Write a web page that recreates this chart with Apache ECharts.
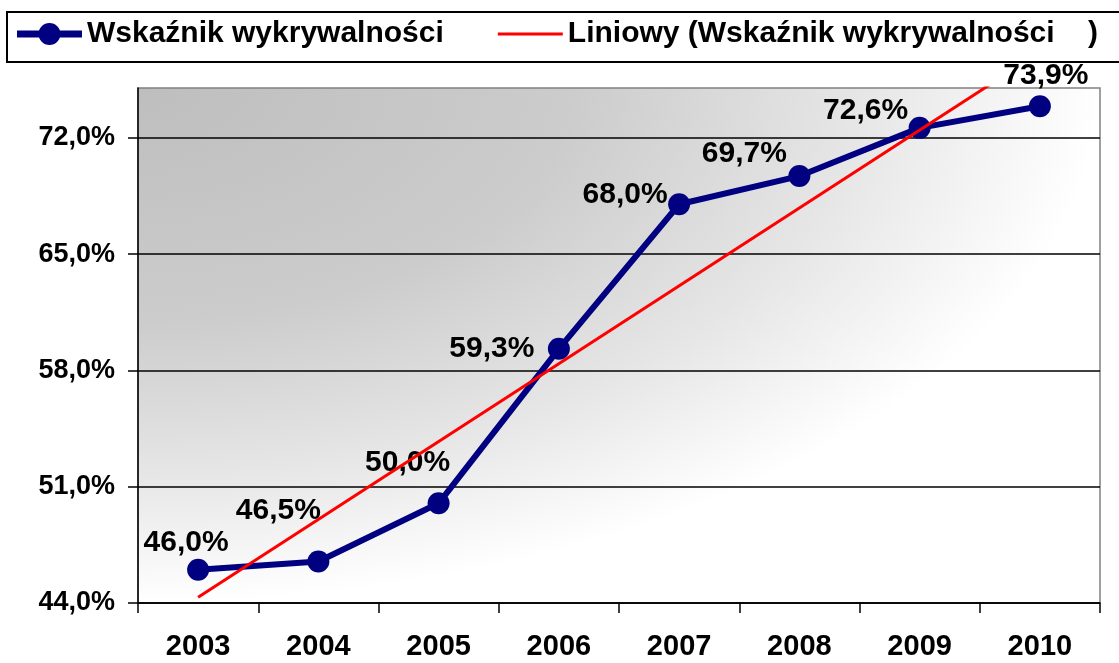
<!DOCTYPE html>
<html>
<head>
<meta charset="utf-8">
<script src="https://cdn.jsdelivr.net/npm/echarts@6/dist/echarts.min.js"></script>
<style>
html,body{margin:0;padding:0;background:#fff;}
#chart{width:1119px;height:663px;}
</style>
</head>
<body>
<div id="chart"></div>
<script>
// ---- data ----
var years = ['2003', '2004', '2005', '2006', '2007', '2008', '2009', '2010'];
var detectionRate = [46.0, 46.5, 50.0, 59.3, 68.0, 69.7, 72.6, 73.9];
// linear trend line values read at the first and last category
var trendYears = ['2003', '2010'];
var trendValues = [44.35, 77.15];
var yTicks = [44, 51, 58, 65, 72];
var seriesName = 'Wskaźnik wykrywalności';
var trendName = 'Liniowy (Wskaźnik wykrywalności    )';

// ---- layout (label offsets, px) ----
var labelOffsets = [[-12, -27], [-40, -51], [-31, -41], [-67, 0], [-54, -10], [-55, -22], [-54, -17], [6, -31]];

function pct(v) { return v.toFixed(1).replace('.', ',') + '%'; }

var FONT = "'Liberation Sans', Arial, sans-serif";
var chart = echarts.init(document.getElementById('chart'), null, {renderer: 'canvas'});

var G = {left: 138, top: 88, right: 19, bottom: 60};
var gw = 1119 - G.left - G.right, gh = 663 - G.top - G.bottom;

var iconMain = 'path://M0,8 L65,8 L65,15 L0,15 Z M21.5,11.5 A11,11 0 1,1 43.5,11.5 A11,11 0 1,1 21.5,11.5 Z M0,0 L0,0.01 M0,23 L0,23.01';
var iconTrend = 'path://M0,0 L65,0 L65,3 L0,3 Z';

var option = {
  animation: false,
  textStyle: {fontFamily: FONT},
  graphic: [
    {
      type: 'rect', z: -10, silent: true,
      x: G.left, y: G.top, scaleX: gw / gh, scaleY: 1,
      shape: {x: 0, y: 0, width: gh, height: gh},
      style: {
        fill: {
          type: 'radial', x: 0, y: 0, r: 1,
          colorStops: [
            {offset: 0, color: '#bebebe'},
            {offset: 0.45, color: '#cccccc'},
            {offset: 0.75, color: '#e6e6e6'},
            {offset: 0.92, color: '#f7f7f7'},
            {offset: 1, color: '#ffffff'}
          ]
        }
      }
    },
    {
      type: 'rect', z: -10, silent: true,
      shape: {x: 7, y: 12, width: 1140, height: 50},
      style: {fill: '#ffffff', stroke: '#000', lineWidth: 2}
    }
  ],
  legend: {
    left: 17, top: 19, padding: 0,
    itemWidth: 65, itemHeight: 23, itemGap: 54,
    textStyle: {fontSize: 30, fontWeight: 'bold', color: '#000', fontFamily: FONT},
    data: [
      {name: seriesName, icon: iconMain},
      {name: trendName, icon: iconTrend}
    ]
  },
  grid: {
    left: G.left, top: G.top, right: G.right, bottom: G.bottom,
    show: true, backgroundColor: 'transparent', borderColor: '#808080', borderWidth: 1.5
  },
  xAxis: {
    type: 'category', data: years, boundaryGap: true,
    axisLine: {lineStyle: {color: '#000', width: 1.5}},
    axisTick: {show: true, length: 10, lineStyle: {color: '#000', width: 1.5}},
    axisLabel: {fontSize: 29, fontWeight: 'bold', color: '#000', margin: 29, fontFamily: FONT},
    splitLine: {show: false}
  },
  yAxis: {
    type: 'value', min: 44, max: 75, interval: 7,
    axisLine: {show: true, lineStyle: {color: '#000', width: 1.5}},
    axisTick: {show: true, length: 10, customValues: yTicks, lineStyle: {color: '#000', width: 1.5}},
    axisLabel: {fontSize: 27, fontWeight: 'bold', color: '#000', margin: 23, fontFamily: FONT,
      customValues: yTicks, formatter: function (v) { return pct(v); }},
    splitLine: {show: true, lineStyle: {color: '#000', width: 1.5}}
  },
  series: [
    {
      name: seriesName, type: 'line', z: 3,
      data: detectionRate.map(function (v, i) {
        return {value: v, label: {offset: labelOffsets[i]}};
      }),
      symbol: 'circle', symbolSize: 22,
      lineStyle: {color: '#000080', width: 6},
      itemStyle: {color: '#000080'},
      label: {
        show: true, position: 'inside', fontSize: 30, fontWeight: 'bold', color: '#000',
        fontFamily: FONT, formatter: function (p) { return pct(p.value); }
      }
    },
    {
      name: trendName, type: 'line', z: 4, clip: true,
      data: trendYears.map(function (y, i) { return [y, trendValues[i]]; }),
      symbol: 'none',
      lineStyle: {color: '#ff0000', width: 3},
      itemStyle: {color: '#ff0000'}
    }
  ]
};
chart.setOption(option);
</script>
</body>
</html>
